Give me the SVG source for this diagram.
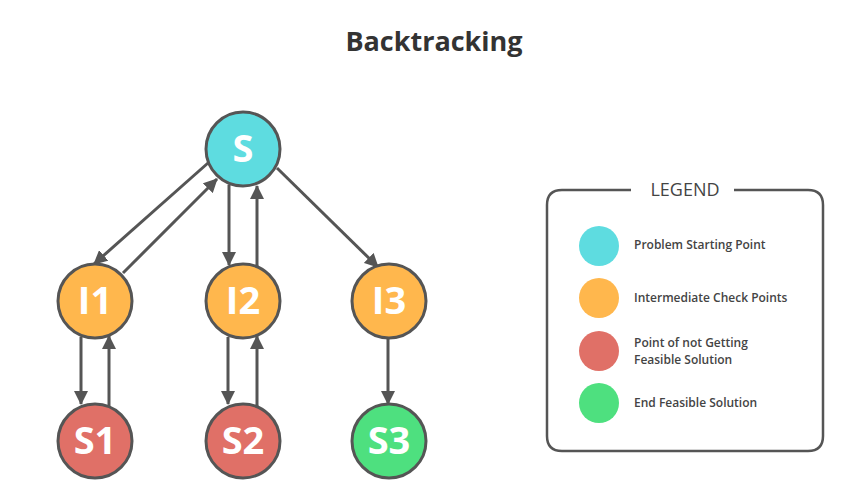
<svg xmlns="http://www.w3.org/2000/svg" width="847" height="487" viewBox="0 0 847 487">
<defs>
<style>
.node circle{stroke:#555;stroke-width:3}
.lbl{font-family:"Open Sans","Liberation Sans",sans-serif;font-weight:700;font-size:38px;fill:#fff;text-anchor:middle}
.edge{stroke:#555;stroke-width:3;fill:none}
.lt{font-family:"Open Sans","Liberation Sans",sans-serif;font-weight:600;font-size:12px;fill:#444}
</style>
<marker id="ah" viewBox="0 0 14 14" refX="13" refY="7" markerWidth="14" markerHeight="14" markerUnits="userSpaceOnUse" orient="auto">
<path d="M0,0 L14,7 L0,14 Z" fill="#555"/>
</marker>
</defs>
<rect width="847" height="487" fill="#fff"/>
<text x="434" y="51" font-family="'Open Sans','Liberation Sans',sans-serif" font-weight="700" font-size="27" fill="#333" text-anchor="middle">Backtracking</text>
<g id="connectors">
<line class="edge" x1="208" y1="163" x2="94" y2="264" marker-end="url(#ah)"/>
<line class="edge" x1="123" y1="273" x2="217" y2="179" marker-end="url(#ah)"/>
<line class="edge" x1="229" y1="185" x2="229" y2="265" marker-end="url(#ah)"/>
<line class="edge" x1="257" y1="266" x2="257" y2="186" marker-end="url(#ah)"/>
<line class="edge" x1="277" y1="168" x2="378" y2="267" marker-end="url(#ah)"/>
<line class="edge" x1="81" y1="337" x2="81" y2="404" marker-end="url(#ah)"/>
<line class="edge" x1="109" y1="406" x2="109" y2="336" marker-end="url(#ah)"/>
<line class="edge" x1="228" y1="337" x2="228" y2="404" marker-end="url(#ah)"/>
<line class="edge" x1="257" y1="406" x2="257" y2="336" marker-end="url(#ah)"/>
<line class="edge" x1="388" y1="338" x2="388" y2="404" marker-end="url(#ah)"/>
</g>
<g id="S" class="node"><circle cx="243" cy="149" r="37" fill="#5EDCE0"/><text class="lbl" x="243" y="162">S</text></g>
<g id="I1" class="node"><circle cx="95" cy="301" r="37" fill="#FFB74D"/><text class="lbl" x="95" y="314">I1</text></g>
<g id="I2" class="node"><circle cx="243" cy="301" r="37" fill="#FFB74D"/><text class="lbl" x="243" y="314">I2</text></g>
<g id="I3" class="node"><circle cx="389" cy="301" r="37" fill="#FFB74D"/><text class="lbl" x="389" y="314">I3</text></g>
<g id="S1" class="node"><circle cx="95" cy="441" r="37" fill="#E07067"/><text class="lbl" x="95" y="454">S1</text></g>
<g id="S2" class="node"><circle cx="243" cy="441" r="37" fill="#E07067"/><text class="lbl" x="243" y="454">S2</text></g>
<g id="S3" class="node"><circle cx="389" cy="441" r="37" fill="#4EE07F"/><text class="lbl" x="389" y="454">S3</text></g>
<g id="legend">
<path d="M631,190 H562 Q547,190 547,205 V436 Q547,451 562,451 H808 Q823,451 823,436 V205 Q823,190 808,190 H734" fill="none" stroke="#555" stroke-width="2.5"/>
<text x="685" y="196" font-family="'Open Sans','Liberation Sans',sans-serif" font-size="18" fill="#444" text-anchor="middle">LEGEND</text>
<circle cx="599" cy="246" r="20" fill="#5EDCE0"/>
<circle cx="599" cy="298" r="20" fill="#FFB74D"/>
<circle cx="599" cy="351" r="20" fill="#E07067"/>
<circle cx="599" cy="403" r="20" fill="#4EE07F"/>
<text class="lt" x="634" y="249">Problem Starting Point</text>
<text class="lt" x="634" y="302">Intermediate Check Points</text>
<text class="lt" x="634" y="347">Point of not Getting</text>
<text class="lt" x="634" y="364">Feasible Solution</text>
<text class="lt" x="634" y="407">End Feasible Solution</text>
</g>
</svg>
